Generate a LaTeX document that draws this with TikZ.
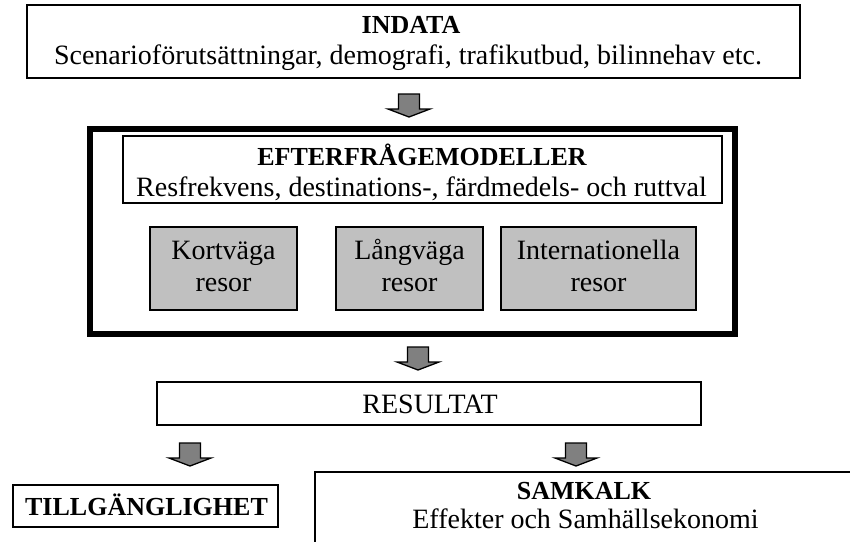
\documentclass[tikz,border=0pt]{standalone}
\usepackage{fontspec}
\setmainfont{Liberation Serif}
\definecolor{boxgray}{HTML}{C0C0C0}
\definecolor{arrowgray}{HTML}{808080}
\begin{document}
\begin{tikzpicture}[x=1pt,y=-1pt,
  font=\fontsize{28}{32}\selectfont,
  box/.style={draw=black,line width=1.6pt,fill=white,inner sep=0pt,outer sep=0pt},
  graybox/.style={box,fill=boxgray},
  thickframe/.style={draw=black,line width=6pt,inner sep=0pt,outer sep=0pt},
  lbl/.style={anchor=base,inner sep=0pt,outer sep=0pt},
  ttl/.style={lbl,font=\fontsize{26}{31}\selectfont\bfseries},
  blockarrow/.pic={\draw[fill=arrowgray,draw=black,line width=1.3pt,line join=miter]
     (-10.5,0) -- (10.5,0) -- (10.5,15) -- (21,15) -- (0,23) -- (-21,15) -- (-10.5,15) -- cycle;}]
\useasboundingbox (0,0) rectangle (850,541);
\clip (0,0) rectangle (850,541);
\fill[white] (0,0) rectangle (850,541);

% INDATA
\node[box,minimum width=773pt,minimum height=73pt] (indata) at (413.5,41.5) {};
\node[ttl] (indatat) at (411,33) {INDATA};
\node[lbl] (indatas) at (408,64) {Scenarioförutsättningar, demografi, trafikutbud, bilinnehav etc.};

\pic at (409,94) {blockarrow};

% thick frame
\node[thickframe,minimum width=645pt,minimum height=204.5pt] (frame) at (412.5,231.25) {};
\node[box,minimum width=599pt,minimum height=67pt] (efter) at (422.5,169.5) {};
\node[ttl] (eftert) at (422,165) {EFTERFRÅGEMODELLER};
\node[lbl] (efters) at (421.5,196) {Resfrekvens, destinations-, färdmedels- och ruttval};

\node[graybox,minimum width=147pt,minimum height=83pt] (kort) at (223.5,268.5) {};
\node[lbl] (kort1) at (223.5,259) {Kortväga};
\node[lbl] (kort2) at (223.5,291) {resor};
\node[graybox,minimum width=147pt,minimum height=83pt] (lang) at (409.5,268.5) {};
\node[lbl] (lang1) at (409.5,259) {Långväga};
\node[lbl] (lang2) at (409.5,291) {resor};
\node[graybox,minimum width=195pt,minimum height=83pt] (intl) at (598.5,268.5) {};
\node[lbl] (intl1) at (598.5,259) {Internationella};
\node[lbl] (intl2) at (598.5,291) {resor};

\pic at (418,347) {blockarrow};

% RESULTAT
\node[box,minimum width=544pt,minimum height=43pt] (res) at (429,403.5) {};
\node[lbl] (rest) at (430,413) {RESULTAT};

\pic at (190,443) {blockarrow};
\pic at (576,443) {blockarrow};

% TILLGANGLIGHET
\node[box,minimum width=265pt,minimum height=42pt] (till) at (145.5,506) {};
\node[ttl] (tillt) at (146.5,515) {TILLGÄNGLIGHET};

% SAMKALK
\node[box,minimum width=538pt,minimum height=88pt] (sam) at (584,516) {};
\node[ttl] (samt) at (584,499) {SAMKALK};
\node[lbl] (sams) at (585.5,528) {Effekter och Samhällsekonomi};
\end{tikzpicture}
\end{document}
